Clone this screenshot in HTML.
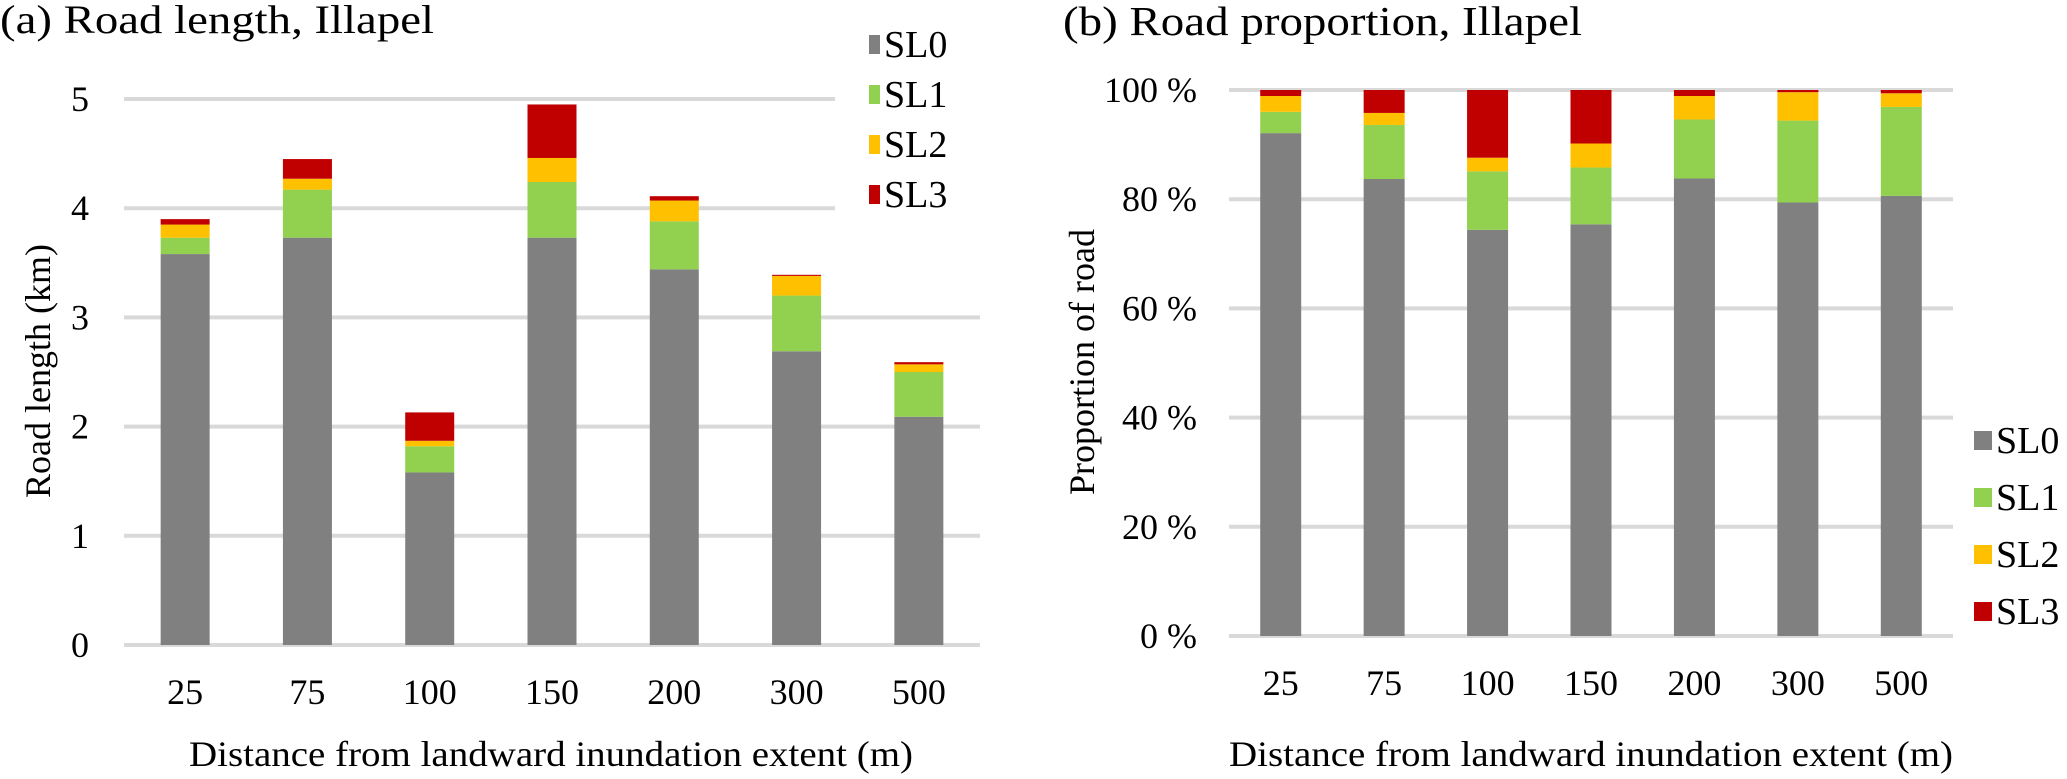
<!DOCTYPE html>
<html><head><meta charset="utf-8"><style>
html,body{margin:0;padding:0;background:#fff;}
svg, svg text{font-family:"Liberation Serif", serif;}
</style></head><body>
<svg id="c" width="2067" height="774" viewBox="0 0 2067 774" xmlns="http://www.w3.org/2000/svg" font-family="Liberation Serif, serif">
<text x="0" y="33" font-size="40" textLength="434" lengthAdjust="spacingAndGlyphs">(a) Road length, Illapel</text>
<text x="1063" y="35" font-size="41" textLength="519" lengthAdjust="spacingAndGlyphs">(b) Road proportion, Illapel</text>
<text transform="translate(50,371) rotate(-90)" text-anchor="middle" font-size="36">Road length (km)</text>
<text transform="translate(1094,362) rotate(-90)" text-anchor="middle" font-size="36">Proportion of road</text>
<text x="551" y="766" text-anchor="middle" font-size="36" textLength="724" lengthAdjust="spacingAndGlyphs">Distance from landward inundation extent (m)</text>
<text x="1591" y="766" text-anchor="middle" font-size="36" textLength="724" lengthAdjust="spacingAndGlyphs">Distance from landward inundation extent (m)</text>
<g id="ga"></g><g id="gb"></g>
</svg>
<script>
const categories = ["25","75","100","150","200","300","500"];
const seriesNames = ["SL0","SL1","SL2","SL3"];
const seriesColors = ["#808080","#92d050","#ffc000","#c00000"];
// Chart (a): road length (km) per segment
const lenSL0 = [3.58,3.73,1.58,3.73,3.44,2.69,2.09];
const lenSL1 = [0.15,0.44,0.24,0.51,0.44,0.51,0.41];
const lenSL2 = [0.12,0.10,0.05,0.22,0.19,0.18,0.07];
const lenSL3 = [0.05,0.18,0.26,0.49,0.04,0.01,0.02];
const yTicksA = [0,1,2,3,4,5];
// Chart (b): proportion (%)
const pctSL0 = [92.1,83.7,74.4,75.4,83.8,79.4,80.6];
const pctSL1 = [3.9,9.9,10.7,10.4,10.8,15.0,16.3];
const pctSL2 = [2.9,2.2,2.5,4.4,4.3,5.2,2.5];
const pctSL3 = [1.1,4.2,12.4,9.8,1.1,0.4,0.6];
const yTicksB = [0,20,40,60,80,100];

const NS="http://www.w3.org/2000/svg";
function mk(parent,tag,attrs,text){const e=document.createElementNS(NS,tag);for(const k in attrs)e.setAttribute(k,attrs[k]);if(text!==undefined)e.textContent=text;parent.appendChild(e);return e;}

function drawChart(g,cfg){
  const y=v=>cfg.y0-(v-cfg.vmin)/(cfg.vmax-cfg.vmin)*(cfg.y0-cfg.y1);
  const step=(cfg.x1-cfg.x0)/categories.length;
  const xc=i=>cfg.x0+step*(i+0.5);
  cfg.ticks.forEach(t=>{
    const right=(cfg.shortTop&&t>=cfg.shortFrom)?cfg.shortRight:cfg.x1;
    const l=mk(g,"line",{x1:cfg.x0,x2:right,y1:y(t),y2:y(t),stroke:"#d9d9d9","stroke-width":4});
    
    
    const tx=mk(g,"text",{x:cfg.labelRight,y:y(t)+12,"text-anchor":"end","font-size":36,"font-family":"Liberation Serif, serif"},cfg.fmt(t));
    
    
  });
  categories.forEach((c,i)=>{
    let base=0;
    cfg.series.forEach((arr,s)=>{
      const v=arr[i];
      const r=mk(g,"rect",{x:xc(i)-cfg.bw/2,y:y(base+v),width:cfg.bw,height:Math.max(0,y(base)-y(base+v)),fill:seriesColors[s]});
      
      
      base+=v;
    });
    const tl=mk(g,"text",{x:xc(i),y:cfg.y0+59,"text-anchor":"middle","font-size":36,"font-family":"Liberation Serif, serif"},c);
    
    
  });
  seriesNames.forEach((n,s)=>{
    const ly=cfg.legY+s*cfg.legStep;
    const sq=mk(g,"rect",{x:cfg.legX,y:ly-9,width:cfg.legSq,height:19,fill:seriesColors[s]});
    
    
    const lt=mk(g,"text",{x:cfg.legX+cfg.legSq+4,y:ly+13,"font-size":38,"font-family":"Liberation Serif, serif"},n);
    
    
  });
}
drawChart(document.getElementById("ga"),{x0:124,x1:980,y0:645,y1:99,vmin:0,vmax:5,bw:49,ticks:yTicksA,fmt:t=>String(t),labelRight:89,
  series:[lenSL0,lenSL1,lenSL2,lenSL3],shortTop:true,shortFrom:4,shortRight:835,legX:869,legY:44,legStep:50,legSq:11});
drawChart(document.getElementById("gb"),{x0:1229,x1:1953,y0:636,y1:90,vmin:0,vmax:100,bw:41,ticks:yTicksB,fmt:t=>t+" %",labelRight:1197,
  series:[pctSL0,pctSL1,pctSL2,pctSL3],shortTop:false,legX:1974,legY:440,legStep:57,legSq:18});
</script>
</body></html>
